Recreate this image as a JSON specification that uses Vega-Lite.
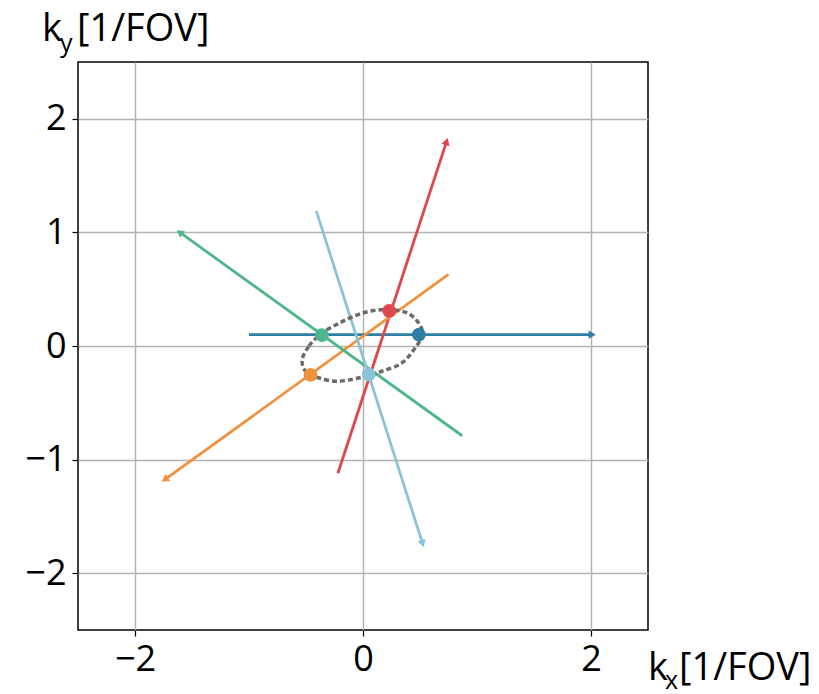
{
  "$schema": "https://vega.github.io/schema/vega-lite/v6.json",
  "width": 570,
  "height": 568,
  "autosize": {"type": "none"},
  "padding": {"left": 78, "top": 62, "right": 171, "bottom": 64},
  "background": "white",
  "config": {
    "view": {"stroke": "black", "strokeWidth": 1.5},
    "axis": {
      "grid": true,
      "gridColor": "#b3b3b3",
      "gridWidth": 1.5,
      "domain": false,
      "tickColor": "black",
      "tickSize": 6,
      "tickWidth": 1.2,
      "labelFont": "Open Sans",
      "labelFontSize": 36,
      "labelColor": "black",
      "labelPadding": 6
    }
  },
  "datasets": {
    "segments": [
      {"series": "blue", "ord": 0, "x": -1.0, "y": 0.1},
      {"series": "blue", "ord": 1, "x": 2.0, "y": 0.1},
      {"series": "red", "ord": 0, "x": -0.22, "y": -1.12},
      {"series": "red", "ord": 1, "x": 0.73, "y": 1.79},
      {"series": "orange", "ord": 0, "x": -1.73, "y": -1.17},
      {"series": "orange", "ord": 1, "x": 0.75, "y": 0.63},
      {"series": "green", "ord": 0, "x": -1.6, "y": 0.995},
      {"series": "green", "ord": 1, "x": 0.87, "y": -0.79},
      {"series": "lightblue", "ord": 0, "x": -0.41, "y": 1.19},
      {"series": "lightblue", "ord": 1, "x": 0.52, "y": -1.73}
    ],
    "arrows": [
      {"series": "blue", "x": 2.0, "y": 0.1, "fx": -1.0, "fy": 0.1},
      {"series": "red", "x": 0.73, "y": 1.79, "fx": -0.22, "fy": -1.12},
      {"series": "orange", "x": -1.73, "y": -1.17, "fx": 0.75, "fy": 0.63},
      {"series": "green", "x": -1.6, "y": 0.995, "fx": 0.87, "fy": -0.79},
      {"series": "lightblue", "x": 0.52, "y": -1.73, "fx": -0.41, "fy": 1.19}
    ],
    "dots": [
      {"series": "blue", "x": 0.49, "y": 0.1},
      {"series": "red", "x": 0.23, "y": 0.31},
      {"series": "orange", "x": -0.46, "y": -0.255},
      {"series": "green", "x": -0.36, "y": 0.095},
      {"series": "lightblue", "x": 0.05, "y": -0.25}
    ],
    "ellipse": [
      {"ord": 1, "x": -0.535, "y": -0.13},
      {"ord": 2, "x": -0.474, "y": 0.0},
      {"ord": 3, "x": -0.36, "y": 0.114},
      {"ord": 4, "x": -0.21, "y": 0.2},
      {"ord": 5, "x": -0.06, "y": 0.27},
      {"ord": 6, "x": 0.08, "y": 0.31},
      {"ord": 7, "x": 0.23, "y": 0.32},
      {"ord": 8, "x": 0.39, "y": 0.29},
      {"ord": 9, "x": 0.49, "y": 0.2},
      {"ord": 10, "x": 0.52, "y": 0.105},
      {"ord": 11, "x": 0.47, "y": 0.0},
      {"ord": 12, "x": 0.34, "y": -0.15},
      {"ord": 13, "x": 0.17, "y": -0.22},
      {"ord": 14, "x": 0.05, "y": -0.26},
      {"ord": 15, "x": -0.21, "y": -0.31},
      {"ord": 16, "x": -0.39, "y": -0.28},
      {"ord": 17, "x": -0.49, "y": -0.24}
    ]
  },
  "layer": [
    {
      "data": {"name": "segments"},
      "mark": {"type": "line", "strokeWidth": 2.8},
      "encoding": {
        "x": {"field": "x", "type": "quantitative", "title": null, "scale": {"domain": [-2.5, 2.5], "nice": false, "zero": false}, "axis": {"values": [-2, 0, 2], "title": null}},
        "y": {"field": "y", "type": "quantitative", "title": null, "scale": {"domain": [-2.5, 2.5], "nice": false, "zero": false}, "axis": {"values": [-2, -1, 0, 1, 2], "title": null}},
        "color": {"field": "series", "type": "nominal", "legend": null, "scale": {"domain": ["blue", "red", "orange", "green", "lightblue"], "range": ["#2e7fa6", "#e0474c", "#f0923d", "#4fb58b", "#8cc3d9"]}},
        "detail": {"field": "series"},
        "order": {"field": "ord", "type": "quantitative"}
      }
    },
    {
      "data": {"name": "arrows"},
      "transform": [{"calculate": "atan2(datum.x - datum.fx, datum.y - datum.fy) * 180 / PI", "as": "ang"}],
      "mark": {"type": "point", "shape": "triangle", "filled": true, "opacity": 1, "size": 70},
      "encoding": {
        "x": {"field": "x", "type": "quantitative", "title": null, "axis": {"values": [-2, 0, 2], "title": null}},
        "y": {"field": "y", "type": "quantitative", "title": null, "axis": {"values": [-2, -1, 0, 1, 2], "title": null}},
        "color": {"field": "series", "type": "nominal", "legend": null},
        "angle": {"field": "ang", "type": "quantitative", "scale": null}
      }
    },
    {
      "data": {"name": "ellipse"},
      "mark": {"type": "line", "interpolate": "cardinal-closed", "color": "#6a6a6a", "strokeWidth": 3.5, "strokeDash": [5, 3]},
      "encoding": {
        "x": {"field": "x", "type": "quantitative", "title": null, "axis": {"values": [-2, 0, 2], "title": null}},
        "y": {"field": "y", "type": "quantitative", "title": null, "axis": {"values": [-2, -1, 0, 1, 2], "title": null}},
        "order": {"field": "ord", "type": "quantitative"}
      }
    },
    {
      "data": {"name": "dots"},
      "mark": {"type": "point", "shape": "circle", "filled": true, "opacity": 1, "size": 190},
      "encoding": {
        "x": {"field": "x", "type": "quantitative", "title": null, "axis": {"values": [-2, 0, 2], "title": null}},
        "y": {"field": "y", "type": "quantitative", "title": null, "axis": {"values": [-2, -1, 0, 1, 2], "title": null}},
        "color": {"field": "series", "type": "nominal", "legend": null}
      }
    },
    {
      "data": {"values": [{"label": "k"}]},
      "mark": {"type": "text", "align": "left", "baseline": "alphabetic", "font": "Open Sans", "fontSize": 38, "color": "black", "dx": -36, "dy": -21},
      "encoding": {"x": {"datum": -2.5, "type": "quantitative", "title": null, "axis": {"values": [-2, 0, 2], "title": null}}, "y": {"datum": 2.5, "type": "quantitative", "title": null, "axis": {"values": [-2, -1, 0, 1, 2], "title": null}}, "text": {"field": "label"}}
    },
    {
      "data": {"values": [{"label": "y"}]},
      "mark": {"type": "text", "align": "left", "baseline": "alphabetic", "font": "Open Sans", "fontSize": 25, "color": "black", "dx": -18, "dy": -10},
      "encoding": {"x": {"datum": -2.5, "type": "quantitative", "title": null, "axis": {"values": [-2, 0, 2], "title": null}}, "y": {"datum": 2.5, "type": "quantitative", "title": null, "axis": {"values": [-2, -1, 0, 1, 2], "title": null}}, "text": {"field": "label"}}
    },
    {
      "data": {"values": [{"label": "[1/FOV]"}]},
      "mark": {"type": "text", "align": "left", "baseline": "alphabetic", "font": "Open Sans", "fontSize": 38, "color": "black", "dx": -1, "dy": -21},
      "encoding": {"x": {"datum": -2.5, "type": "quantitative", "title": null, "axis": {"values": [-2, 0, 2], "title": null}}, "y": {"datum": 2.5, "type": "quantitative", "title": null, "axis": {"values": [-2, -1, 0, 1, 2], "title": null}}, "text": {"field": "label"}}
    },
    {
      "data": {"values": [{"label": "k"}]},
      "mark": {"type": "text", "align": "left", "baseline": "alphabetic", "font": "Open Sans", "fontSize": 38, "color": "black", "dx": 0, "dy": 50},
      "encoding": {"x": {"datum": 2.5, "type": "quantitative", "title": null, "axis": {"values": [-2, 0, 2], "title": null}}, "y": {"datum": -2.5, "type": "quantitative", "title": null, "axis": {"values": [-2, -1, 0, 1, 2], "title": null}}, "text": {"field": "label"}}
    },
    {
      "data": {"values": [{"label": "x"}]},
      "mark": {"type": "text", "align": "left", "baseline": "alphabetic", "font": "Open Sans", "fontSize": 25, "color": "black", "dx": 17, "dy": 59},
      "encoding": {"x": {"datum": 2.5, "type": "quantitative", "title": null, "axis": {"values": [-2, 0, 2], "title": null}}, "y": {"datum": -2.5, "type": "quantitative", "title": null, "axis": {"values": [-2, -1, 0, 1, 2], "title": null}}, "text": {"field": "label"}}
    },
    {
      "data": {"values": [{"label": "[1/FOV]"}]},
      "mark": {"type": "text", "align": "left", "baseline": "alphabetic", "font": "Open Sans", "fontSize": 38, "color": "black", "dx": 31, "dy": 50},
      "encoding": {"x": {"datum": 2.5, "type": "quantitative", "title": null, "axis": {"values": [-2, 0, 2], "title": null}}, "y": {"datum": -2.5, "type": "quantitative", "title": null, "axis": {"values": [-2, -1, 0, 1, 2], "title": null}}, "text": {"field": "label"}}
    }
  ]
}
